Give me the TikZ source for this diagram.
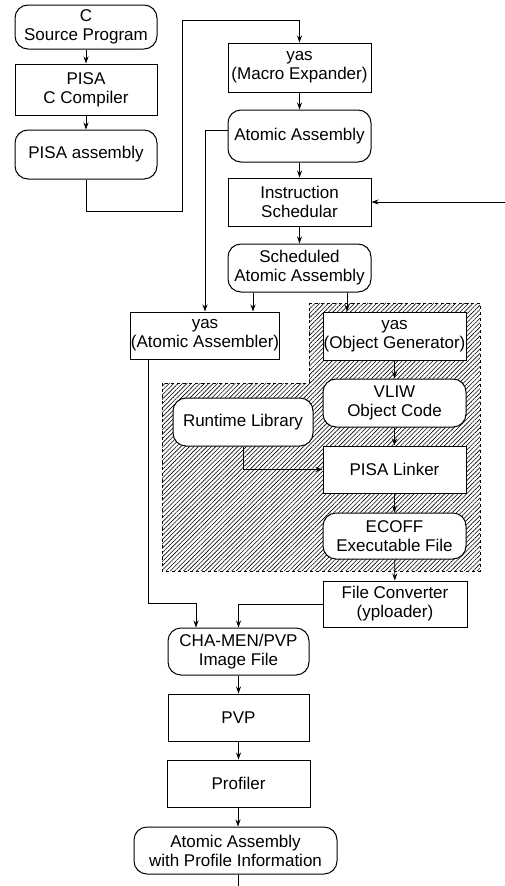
\documentclass[tikz,border=0pt]{standalone}
\usepackage{fontspec}
\setmainfont{Liberation Sans}
\usetikzlibrary{arrows.meta,patterns.meta}
\begin{document}
\begin{tikzpicture}[x=1pt,y=-1pt,
 font=\fontsize{17}{19}\selectfont,
 base/.style={draw,line width=1pt,fill=white,align=center,inner sep=0pt},
 rbox/.style={base,rounded corners=13pt},
 sbox/.style={base},
 arr/.style={-{Stealth[length=7pt,width=5pt]},line width=0.8pt},
 ln/.style={line width=0.8pt},
 hatch/.style={pattern={Lines[angle=45,distance=3.1pt,line width=0.6pt]},draw,dashed,line width=0.8pt}]
\useasboundingbox (0,0) rectangle (505,886);

% hatched region
\draw[hatch] (309,303) -- (480,303) -- (480,571) -- (162,571) -- (162,383) -- (309,383) -- cycle;

% left column
\node[rbox,minimum width=142pt,minimum height=44pt] (src) at (86,27) {C\\Source Program};
\node[sbox,minimum width=142pt,minimum height=51pt] (comp) at (86,89.5) {PISA\\C Compiler};
\node[rbox,minimum width=142pt,minimum height=49pt] (pasm) at (86,154.5) {PISA assembly};

% centre column
\node[sbox,minimum width=143pt,minimum height=49pt] (macro) at (299.5,67.5) {yas\\(Macro Expander)};
\node[rbox,minimum width=143pt,minimum height=52pt] (atom) at (299.5,136) {Atomic Assembly};
\node[sbox,minimum width=143pt,minimum height=48pt] (sched) at (299.5,202) {Instruction\\Schedular};
\node[rbox,minimum width=143pt,minimum height=48pt] (satom) at (299.5,268) {Scheduled\\Atomic Assembly};

\node[sbox,minimum width=142pt,minimum height=47pt] (asmb) at (205,335.5) {yas\\(Atomic Assembler)};

% right column
\node[sbox,minimum width=143pt,minimum height=48pt] (objg) at (394.5,336) {yas\\(Object Generator)};
\node[rbox,minimum width=143pt,minimum height=48pt] (vliw) at (394.5,403) {VLIW\\Object Code};
\node[sbox,minimum width=143pt,minimum height=47pt] (link) at (394.5,469.5) {PISA Linker};
\node[rbox,minimum width=143pt,minimum height=46pt] (ecoff) at (394.5,536) {ECOFF\\Executable File};
\node[rbox,minimum width=140pt,minimum height=48pt] (rtl) at (243,422) {Runtime Library};
\node[sbox,minimum width=144pt,minimum height=46pt] (conv) at (395,604) {File Converter\\(yploader)};

% bottom column
\node[rbox,minimum width=141pt,minimum height=47pt] (img) at (238.5,651.5) {CHA-MEN/PVP\\Image File};
\node[sbox,minimum width=141pt,minimum height=47pt] (pvp) at (238.5,717.5) {PVP};
\node[sbox,minimum width=143pt,minimum height=47pt] (prof) at (238.5,783.5) {Profiler};
\node[rbox,minimum width=203pt,minimum height=47pt] (prinfo) at (235.5,850.5) {Atomic Assembly\\with Profile Information};

% helper coordinates
\coordinate (c253) at (253,0);
\coordinate (c347) at (347,0);
\coordinate (ja) at (148,603);
\coordinate (jb) at (196,603);
\coordinate (bot) at (238,886);
\coordinate (rin) at (505,202);
\coordinate (pa) at (86,211);
\coordinate (pb) at (182,20);

% connectors
\draw[arr] (src) -- (comp);
\draw[arr] (comp) -- (pasm);
\draw[arr] (pasm.south) -- (pa) -| (pb) -| (macro.north);
\draw[arr] (macro) -- (atom);
\draw[arr] (atom) -- (sched);
\draw[arr] (sched) -- (satom);
\draw[arr] (rin) -- (sched.east);
\draw[arr] ([yshift=6pt]atom.west) -| (asmb.north);
\draw[arr] (satom.south -| c253) -- (asmb.north -| c253);
\draw[arr] (satom.south -| c347) -- (objg.north -| c347);
\draw[arr] (objg) -- (vliw);
\draw[arr] (vliw) -- (link);
\draw[arr] (link) -- (ecoff);
\draw[arr] (ecoff) -- (conv);
\draw[arr] (rtl.south) |- (link.west);
\draw[arr] (asmb.south -| ja) -- (ja) -- (jb) -- (img.north -| jb);
\draw[arr] (conv.west) -| (img.north);
\draw[arr] (img) -- (pvp);
\draw[arr] (pvp) -- (prof);
\draw[arr] (prof.south -| bot) -- (prinfo.north -| bot);
\draw[ln] (prinfo.south -| bot) -- (bot);
\end{tikzpicture}
\end{document}
